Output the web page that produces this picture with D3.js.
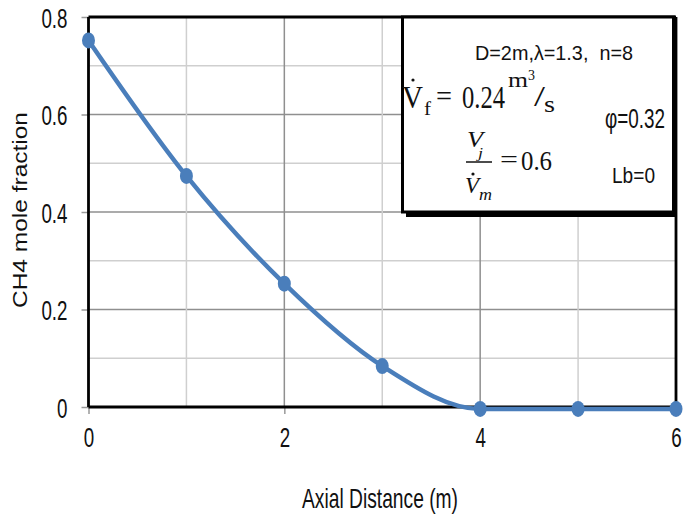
<!DOCTYPE html>
<meta charset="utf-8">
<style>
  body { margin: 0; background: #fff; }
  .tick text { font-family: "Liberation Sans", Arial, sans-serif; font-size: 28px; fill: #111; }
  .lbl { font-family: "Liberation Sans", Arial, sans-serif; fill: #111; }
  .math { font-family: "Liberation Serif", "DejaVu Serif", serif; fill: #111; }
</style>
<body>
<div id="chart"></div>
<script src="https://d3js.org/d3.v7.min.js"></script>
<script>
// chart data
var distance = [0, 1, 2, 3, 4, 5, 6];
var ch4 = [0.752, 0.474, 0.253, 0.084, -0.004, -0.004, -0.004];
var xTicks = [0, 2, 4, 6];
var yTicks = [0, 0.2, 0.4, 0.6, 0.8];

var width = 683,
    height = 517;
var squeeze = 0.67; // the picture is stretched tall, so text is narrow

var svg = d3.select("#chart").append("svg")
    .attr("width", width)
    .attr("height", height);

var x = d3.scaleLinear().domain([0, 6]).range([88.5, 676]);
var y = d3.scaleLinear().domain([0, 0.8]).range([407, 17]);

// squeeze a text element horizontally to a given width (or by a factor)
function fit(sel, len) {
  sel.each(function() {
    var w = len || this.getComputedTextLength() * squeeze;
    this.setAttribute("textLength", w);
    this.setAttribute("lengthAdjust", "spacingAndGlyphs");
  });
}

// grid lines, minor ones lighter
svg.append("g").selectAll("line")
    .data(d3.range(1, 8).map(function(i) { return i / 10; }))
  .enter().append("line")
    .attr("x1", x(0)).attr("x2", x(6))
    .attr("y1", function(d) { return y(d); }).attr("y2", function(d) { return y(d); })
    .attr("stroke", function(d, i) { return i % 2 ? "#8f8f8f" : "#cfcfcf"; })
    .attr("stroke-width", 1.5);

svg.append("g").selectAll("line")
    .data([1, 2, 3, 4, 5])
  .enter().append("line")
    .attr("y1", y(0)).attr("y2", y(0.8))
    .attr("x1", function(d) { return x(d); }).attr("x2", function(d) { return x(d); })
    .attr("stroke", function(d) { return d % 2 ? "#cfcfcf" : "#8f8f8f"; })
    .attr("stroke-width", 1.5);

// axes
svg.append("g")
    .attr("transform", "translate(0," + y(0) + ")")
    .call(d3.axisBottom(x).tickValues(xTicks).tickSize(7).tickPadding(19).tickFormat(d3.format("d")))
    .call(function(g) {
      g.select(".domain").remove();
      g.selectAll("line").attr("stroke", "#999").attr("stroke-width", 1.5);
      g.selectAll("text").attr("dy", "0.5em").call(fit);
    });

svg.append("g")
    .attr("transform", "translate(" + x(0) + ",0)")
    .call(d3.axisLeft(y).tickValues(yTicks).tickSize(7).tickPadding(14)
      .tickFormat(function(d) { return d === 0 ? "0" : d3.format(".1f")(d); }))
    .call(function(g) {
      g.select(".domain").remove();
      g.selectAll("line").attr("stroke", "#999").attr("stroke-width", 1.5);
      g.selectAll("text").attr("dy", "0.36em").call(fit);
    });

// plot frame
var frame = [[0, 0, 6, 0], [0, 0.8, 6, 0.8], [0, 0, 0, 0.8], [6, 0, 6, 0.8]];
svg.append("g").selectAll("line")
    .data(frame)
  .enter().append("line")
    .attr("x1", function(d) { return x(d[0]); }).attr("y1", function(d) { return y(d[1]); })
    .attr("x2", function(d) { return x(d[2]); }).attr("y2", function(d) { return y(d[3]); })
    .attr("stroke", "#000").attr("stroke-width", 2.8);

// series
var pts = distance.map(function(d, i) { return [d, ch4[i]]; });
var line = d3.line()
    .x(function(d) { return x(d[0]); })
    .y(function(d) { return y(d[1]); })
    .curve(d3.curveMonotoneX);

svg.append("path")
    .datum(pts)
    .attr("fill", "none")
    .attr("stroke", "#4a7ebb")
    .attr("stroke-width", 4.5)
    .attr("d", line);

svg.append("g").selectAll("ellipse")
    .data(pts)
  .enter().append("ellipse")
    .attr("cx", function(d) { return x(d[0]); })
    .attr("cy", function(d) { return y(d[1]); })
    .attr("rx", 6.5)
    .attr("ry", 8)
    .attr("fill", "#4a7ebb");

// axis titles
svg.append("text")
    .attr("class", "lbl")
    .attr("x", 380).attr("y", 508)
    .attr("text-anchor", "middle")
    .style("font-size", "28px")
    .text("Axial Distance (m)")
    .call(fit, 156);

svg.append("text")
    .attr("class", "lbl")
    .attr("transform", "translate(27,210) rotate(-90)")
    .attr("text-anchor", "middle")
    .style("font-size", "20px")
    .text("CH4 mole fraction")
    .call(fit, 196);

// annotation box with its shadow
var box = svg.append("g");
box.append("rect")
    .attr("x", 406).attr("y", 22).attr("width", 271).attr("height", 195)
    .attr("fill", "#000");
box.append("rect")
    .attr("x", 402.5).attr("y", 17).attr("width", 271).attr("height", 195)
    .attr("fill", "#fff").attr("stroke", "#000").attr("stroke-width", 3);

function put(cls, txt, px, py, size, len, extra) {
  var t = box.append("text").attr("class", cls)
      .attr("x", px).attr("y", py)
      .style("font-size", size + "px")
      .text(txt);
  if (extra) t.style("font-style", extra);
  if (len) t.call(fit, len);
  return t;
}

function dot(px, py) {
  box.append("circle").attr("cx", px).attr("cy", py).attr("r", 1.6).attr("fill", "#111");
}

put("lbl", "D=2m,\u03bb=1.3,\u00a0 n=8", 475, 60, 21, 158);

// flow rate  V̇f = 0.24 m³/s
put("math", "V", 402, 108, 31, 21);
dot(413, 80);
put("math", "f", 424, 115, 19, 7);
put("math", "=", 436, 106, 30, 16);
put("math", "0.24", 462, 108, 31, 43);
put("math", "m", 508, 87, 21, 20);
put("math", "3", 528, 80, 14, 7);
put("math", "/", 534, 106, 30, 11);
put("math", "s", 544, 112, 24, 11);

put("lbl", "\u03c6=0.32", 605, 128, 27, 60);

// ratio  V̇j / V̇m = 0.6
put("math", "V", 467, 147, 24, 16, "italic");
put("math", "j", 478, 158, 15, 5, "italic");
box.append("line")
    .attr("x1", 466).attr("x2", 492).attr("y1", 162).attr("y2", 162)
    .attr("stroke", "#111").attr("stroke-width", 1.5);
put("math", "V", 465, 193, 24, 14, "italic");
dot(473, 174);
put("math", "m", 479, 200, 16, 13, "italic");
put("math", "=", 500, 168, 26, 18);
put("math", "0.6", 521, 170, 27, 31);

put("lbl", "Lb=0", 612, 183, 22, 43);
</script>
</body>
